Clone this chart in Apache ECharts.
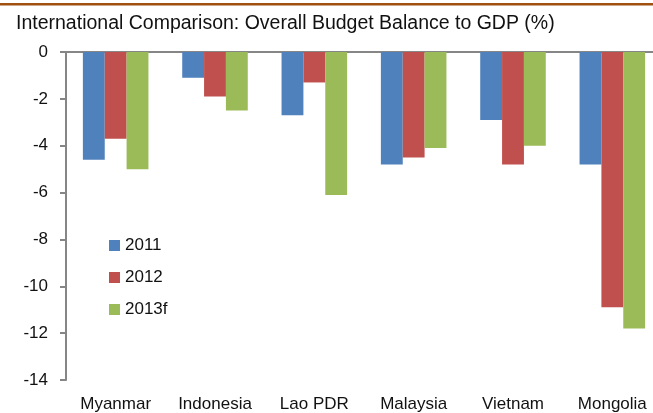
<!DOCTYPE html>
<html>
<head>
<meta charset="utf-8">
<script src="https://cdn.jsdelivr.net/npm/echarts@6/dist/echarts.min.js"></script>
<style>
  html, body { margin: 0; padding: 0; background: #fff; }
  #chart { width: 653px; height: 413px; }
</style>
</head>
<body>
<div id="chart"></div>
<script>
// 数据
const countries = ['Myanmar', 'Indonesia', 'Lao PDR', 'Malaysia', 'Vietnam', 'Mongolia']
const y2011 = [-4.6, -1.1, -2.7, -4.8, -2.9, -4.8]
const y2012 = [-3.7, -1.9, -1.3, -4.5, -4.8, -10.9]
const y2013f = [-5.0, -2.5, -6.1, -4.1, -4.0, -11.8]
const yTicks = { min: -14, max: 0, interval: 2 }

const font = 'Liberation Sans'
const axisGray = '#868686'

const chart = echarts.init(document.getElementById('chart'))

const bar = (name, data, color) => ({
  name,
  type: 'bar',
  data,
  xAxisIndex: 0,
  barGap: 0,
  barCategoryGap: '34%',
  itemStyle: { color }
})

const option = {
  animation: false,
  textStyle: { fontFamily: font },
  title: {
    text: 'International Comparison: Overall Budget Balance to GDP (%)',
    left: 11,
    top: 9,
    textStyle: { fontFamily: font, fontSize: 19.5, fontWeight: 'normal', color: '#111' }
  },
  graphic: [
    {
      type: 'rect',
      shape: { x: 0, y: 3, width: 653, height: 2.5 },
      style: { fill: '#A0500F' }
    }
  ],
  legend: {
    orient: 'vertical',
    left: 109,
    top: 237,
    padding: 0,
    icon: 'rect',
    itemWidth: 11,
    itemHeight: 11,
    itemGap: 15,
    textStyle: { fontFamily: font, fontSize: 17, color: '#111', lineHeight: 17 },
    data: ['2011', '2012', '2013f']
  },
  grid: {
    left: 66,
    top: 52,
    width: 596,
    height: 328,
    outerBoundsMode: 'none'
  },
  xAxis: [
    {
      type: 'category',
      data: countries,
      position: 'top',
      axisLine: { onZero: false, lineStyle: { color: axisGray, width: 2 } },
      axisTick: { inside: true, length: 5, lineStyle: { color: axisGray, width: 2 } },
      axisLabel: { show: false }
    },
    {
      type: 'category',
      data: countries,
      position: 'bottom',
      axisLine: { show: false },
      axisTick: { show: false },
      axisLabel: { fontFamily: font, fontSize: 17, color: '#111', margin: 16 }
    }
  ],
  yAxis: {
    type: 'value',
    min: yTicks.min,
    max: yTicks.max,
    interval: yTicks.interval,
    axisLine: { show: true, lineStyle: { color: axisGray, width: 2 } },
    axisTick: { show: true, length: 6, lineStyle: { color: axisGray, width: 2 } },
    splitLine: { show: false },
    axisLabel: { fontFamily: font, fontSize: 17, color: '#111', margin: 18 }
  },
  series: [
    bar('2011', y2011, '#4F81BD'),
    bar('2012', y2012, '#C0504D'),
    bar('2013f', y2013f, '#9BBB59')
  ]
}

chart.setOption(option)
</script>
</body>
</html>
